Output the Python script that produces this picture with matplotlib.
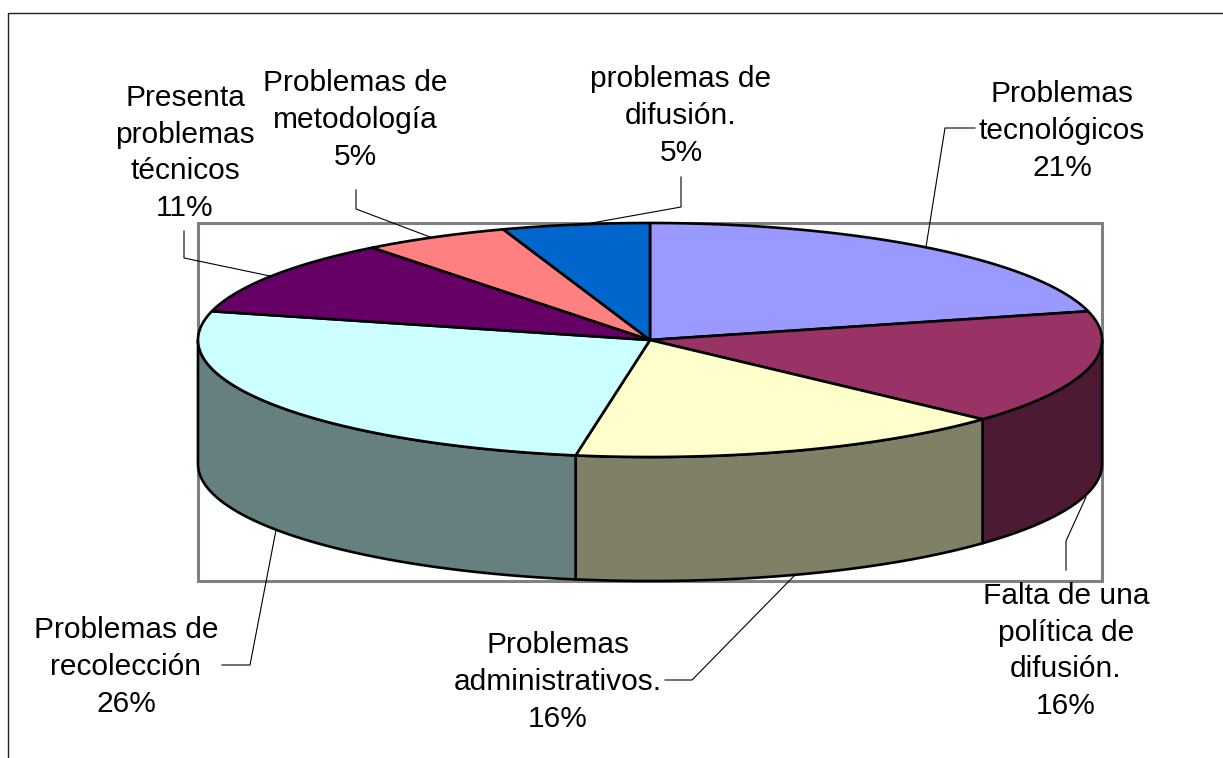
import numpy as np
import matplotlib
matplotlib.use("Agg")
import matplotlib.pyplot as plt
from matplotlib.patches import Polygon, Rectangle

# counts behind the percentages, clockwise from 12 o'clock
categories = [
    "Problemas\ntecnológicos",
    "Falta de una\npolítica de\ndifusión.",
    "Problemas\nadministrativos.",
    "Problemas de\nrecolección",
    "Presenta\nproblemas\ntécnicos",
    "Problemas de\nmetodología",
    "problemas de\ndifusión.",
]
values = [4, 3, 3, 5, 2, 1, 1]
top_colors = ["#9999FF", "#993366", "#FFFFCC", "#CCFFFF", "#660066", "#FF8080", "#0066CC"]
side_colors = ["#4D4D80", "#4D1A33", "#808066", "#668080", "#330033", "#804040", "#003366"]

# label centres and leader lines, in pixels of the figure
label_pos = [(1062, 131), (1066, 651), (558, 682), (126, 667), (185, 153), (355, 120), (681, 116)]
leaders = [
    [(975, 128), (945, 128), (926, 247)],
    [(1066, 570), (1066, 541), (1086, 497)],
    [(665, 680), (692, 680), (795, 575)],
    [(222, 665), (250, 665), (276, 530)],
    [(184, 231), (184, 258), (270, 276)],
    [(356, 190), (356, 209), (430, 237)],
    [(681, 177), (681, 207), (575, 226)],
]

CX, CY, RX, RY, DEPTH = 650, 340, 452, 117, 124


def rim(start, end, n=120):
    # points on the top ellipse, angles in degrees clockwise from the top
    t = np.radians(np.linspace(start, end, n))
    return np.column_stack([CX + RX * np.sin(t), CY - RY * np.cos(t)])


plt.rcParams["font.family"] = ["Liberation Sans", "DejaVu Sans"]

fig = plt.figure(figsize=(12.23, 7.58), dpi=100)
ax = fig.add_axes([0, 0, 1, 1])
ax.set_xlim(0, 1223)
ax.set_ylim(758, 0)
ax.axis("off")

# outer chart border, only top and left are visible
ax.plot([8, 8, 1223], [758, 13, 13], color="#202020", lw=1.0, solid_joinstyle="miter")
# plot area
ax.add_patch(Rectangle((198, 223), 904, 358, fill=False, ec="#808080", lw=2.2, zorder=1))

edges = np.cumsum([0] + values) / sum(values) * 360

# side walls, only the part facing the viewer
for i in range(len(values)):
    start = max(edges[i], 90)
    end = min(edges[i + 1], 270)
    if end <= start:
        continue
    arc = rim(start, end)
    low = arc[::-1] + [0, DEPTH]
    ax.add_patch(Polygon(np.vstack([arc, low]), closed=True, fc=side_colors[i],
                         ec="black", lw=1.9, joinstyle="round", zorder=2))

# top face
for i in range(len(values)):
    arc = rim(edges[i], edges[i + 1])
    pts = np.vstack([[CX, CY], arc])
    ax.add_patch(Polygon(pts, closed=True, fc=top_colors[i], ec="black", lw=1.9,
                         joinstyle="round", zorder=3))

for i, name in enumerate(categories):
    pct = round(values[i] / sum(values) * 100)
    ax.text(label_pos[i][0], label_pos[i][1], f"{name}\n{pct}%", ha="center", va="center",
            ma="center", fontsize=21.5, linespacing=1.39, color="black", zorder=5)
    xs, ys = zip(*leaders[i])
    ax.plot(xs, ys, color="black", lw=0.8, zorder=4)

fig.savefig("out.png", dpi=100)
